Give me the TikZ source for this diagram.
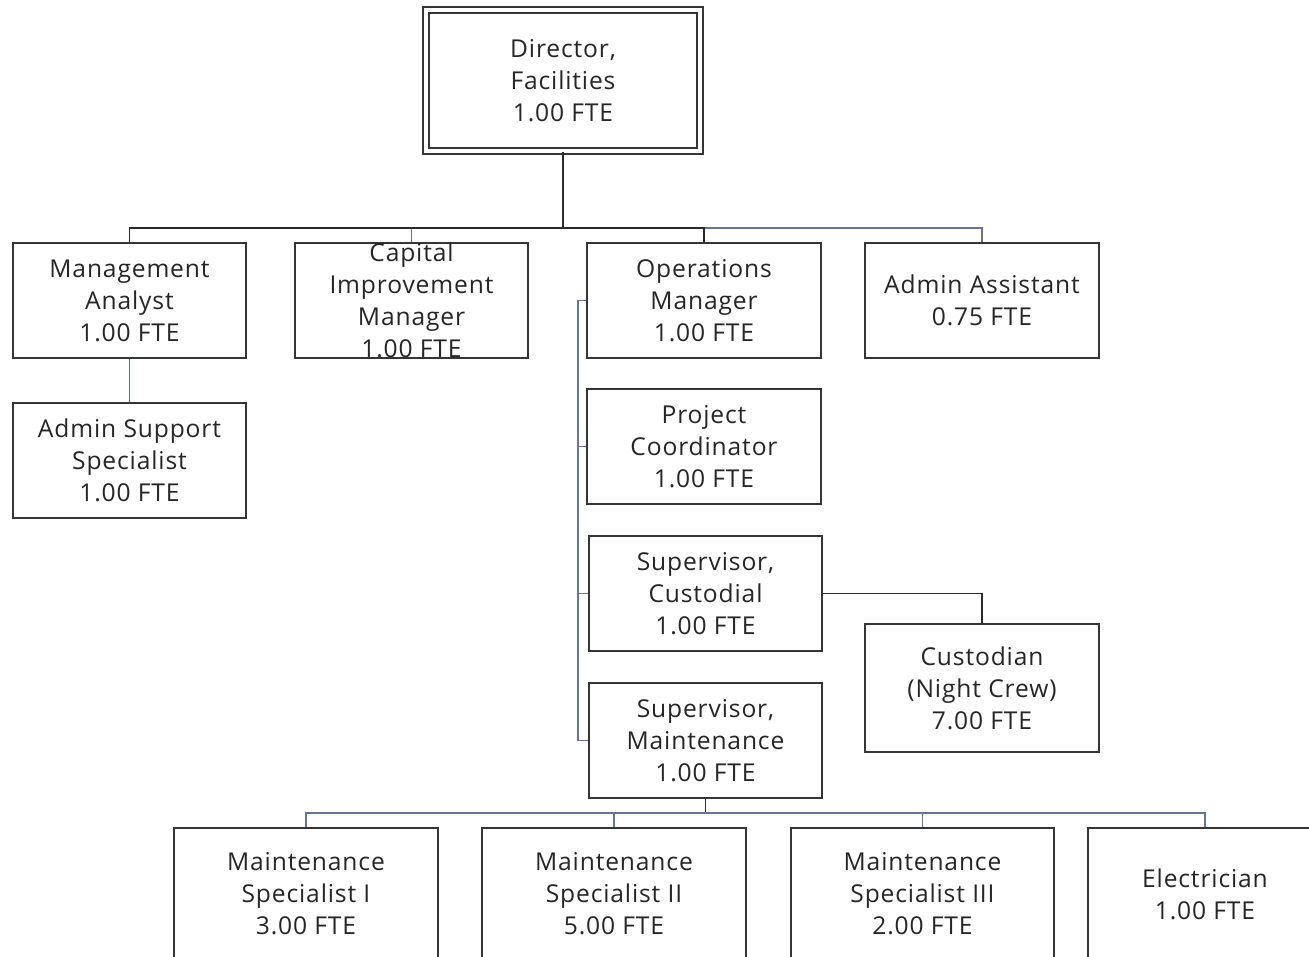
\documentclass[tikz,border=0pt]{standalone}
\usepackage{fontspec}
\setmainfont[LetterSpace=3.5]{Open Sans}
\definecolor{boxgray}{HTML}{353535}
\definecolor{txtgray}{HTML}{262626}
\definecolor{linkdark}{HTML}{2B2B2B}
\definecolor{linkblue}{HTML}{65749A}

\begin{document}
\begin{tikzpicture}[x=0.02cm,y=-0.02cm]

  \tikzset{POS/.style={draw=boxgray, line width=0.04cm, fill=white, align=center,
      text=txtgray, font=\fontsize{14}{18.2}\selectfont, inner sep=0pt}}
  \tikzset{TOP/.style={POS, double, double distance=0.085cm, line width=0.033cm,
      minimum width=5.48cm, minimum height=2.82cm}}
  \tikzset{STD/.style={POS, minimum width=4.68cm, minimum height=2.32cm}}
  \tikzset{WIDE/.style={POS, minimum width=5.28cm, minimum height=2.64cm}}
  \tikzset{LNK/.style={draw=linkblue, line width=0.035cm}}
  \tikzset{BOSS/.style={draw=linkdark, line width=0.035cm}}

  \useasboundingbox (0,0) rectangle (1309,957);
  \clip (0,0) rectangle (1309,957);

  \node[TOP] (dir) at (563,80.5)  {Director,\\Facilities\\1.00 FTE};

  \node[STD] (ma)  at (129.5,300.5) {Management\\Analyst\\1.00 FTE};
  \node[STD] (cim) at (411.5,300.5) {Capital\\Improvement\\Manager\\1.00 FTE};
  \node[STD] (om)  at (704,300.5)   {Operations\\Manager\\1.00 FTE};
  \node[STD] (aa)  at (982,300.5)   {Admin Assistant\\0.75 FTE};

  \node[STD] (ass) at (129.5,460.5) {Admin Support\\Specialist\\1.00 FTE};
  \node[STD] (pc)  at (704,446.5)   {Project\\Coordinator\\1.00 FTE};
  \node[STD] (sc)  at (705.5,593.5) {Supervisor,\\Custodial\\1.00 FTE};
  \node[STD] (sm)  at (705.5,740.5) {Supervisor,\\Maintenance\\1.00 FTE};
  \node[STD, minimum height=2.56cm] (cu) at (982,688) {Custodian\\(Night Crew)\\7.00 FTE};

  \node[WIDE] (ms1) at (306,894)   {Maintenance\\Specialist I\\3.00 FTE};
  \node[WIDE] (ms2) at (614,894)   {Maintenance\\Specialist II\\5.00 FTE};
  \node[WIDE] (ms3) at (922.5,894) {Maintenance\\Specialist III\\2.00 FTE};
  \node[WIDE, minimum width=4.68cm] (el) at (1205,894) {Electrician\\1.00 FTE};

  \coordinate (bus)  at (563,228);
  \coordinate (obus) at (578,300.5);
  \coordinate (mbus) at (705.5,813);

  \draw[LNK] (bus) -| (cim.north);
  \draw[LNK] (bus) -| (aa.north);
  \draw[BOSS, line width=0.05cm] (dir.south) -- (bus);
  \draw[BOSS] (bus) -| (ma.north);
  \draw[BOSS] (bus) -| (om.north);

  \draw[LNK] (ma.south) -- (ass.north);

  \draw[LNK] (om.west) -- (obus) |- (sm.west);
  \draw[LNK] (obus) |- (pc.west);
  \draw[LNK] (obus) |- (sc.west);
  \draw[BOSS] (sc.east) -| (cu.north);

  \draw[BOSS] (sm.south) -- (mbus);
  \draw[LNK] (mbus) -| (ms1.north);
  \draw[LNK] (mbus) -| (ms2.north);
  \draw[LNK] (mbus) -| (ms3.north);
  \draw[LNK] (mbus) -| (el.north);
\end{tikzpicture}
\end{document}
